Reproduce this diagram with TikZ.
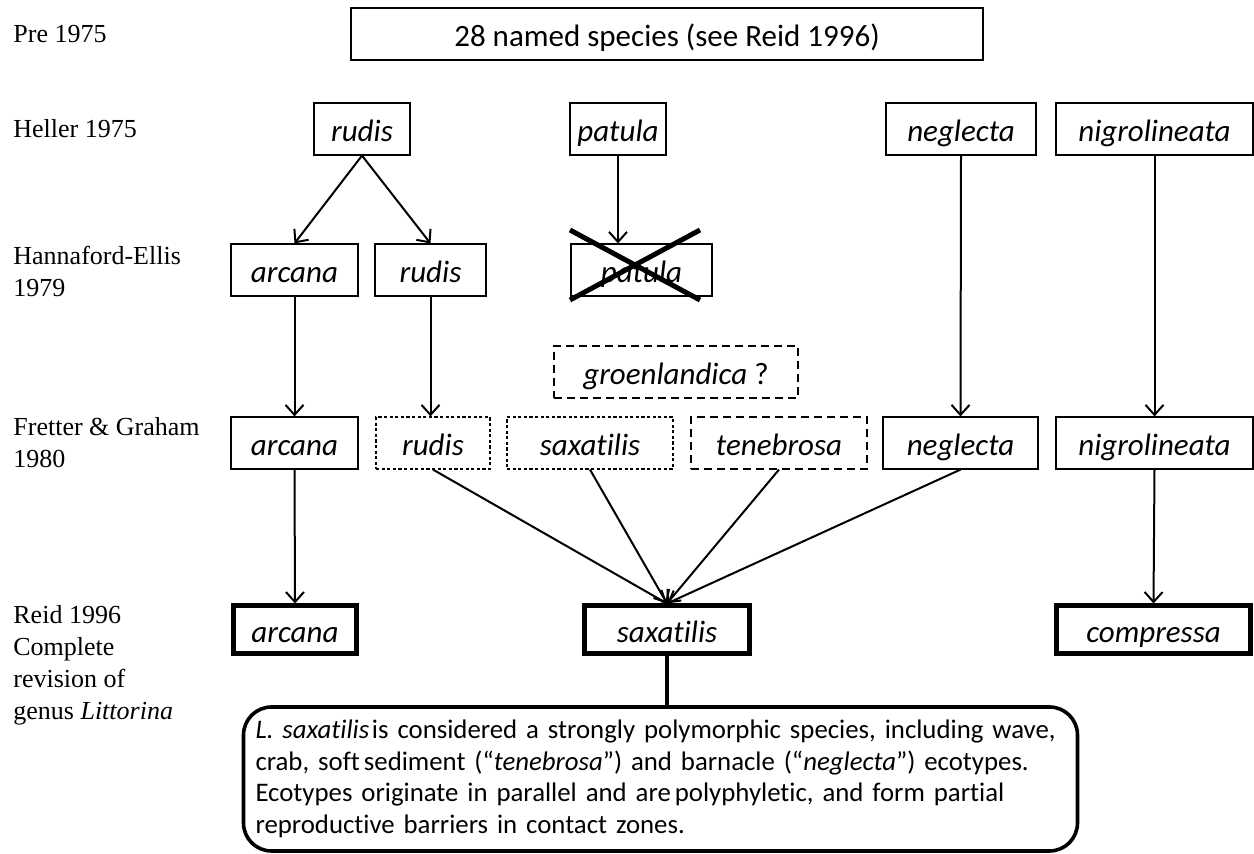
\documentclass[tikz,border=0pt]{standalone}
\usepackage{fontspec}
\setmainfont{Carlito}[Ligatures=NoCommon]
\newfontfamily\labelfont{Liberation Serif}
\usetikzlibrary{arrows.meta}

\begin{document}
\begin{tikzpicture}[
    x=0.5pt,
    y=-0.5pt,
    >={Straight Barb[length=5pt,width=9pt]},
    box/.style={draw, line width=0.6pt, minimum height=26pt, inner sep=0pt,
      text height=12.5pt, text depth=0pt, font=\fontsize{15.5}{18}\selectfont},
    finedash/.style={box, dash pattern=on 1.6pt off 1.2pt},
    longdash/.style={box, dash pattern=on 4pt off 2.5pt},
    thickbox/.style={box, line width=2.5pt, minimum height=24pt},
    notebox/.style={draw, line width=1.8pt, rounded corners=14pt, inner xsep=6pt,
      inner ysep=0pt, minimum height=72pt, text width=405pt, align=left,
      font=\fontsize{13.4}{15.8}\selectfont},
    period/.style={anchor=west, inner sep=0pt, align=left,
      font=\fontsize{13}{16}\selectfont\labelfont},
    arr/.style={->, line width=1pt}
]
  \useasboundingbox (0,0) rectangle (1254,854);

  % time periods
  \node[period] (tpre) at (13, 34) {Pre 1975};
  \node[period] (theller) at (13, 129) {Heller 1975};
  \node[period] (thannaford) at (13, 271) {Hannaford-Ellis\\1979};
  \node[period] (tfretter) at (13, 443) {Fretter \& Graham\\1980};
  \node[period] (treid) at (13, 665) {Reid 1996\\Complete\\revision of\\genus \textit{Littorina}};

  % Pre 1975
  \node[box, minimum width=316pt] (pre) at (667, 34) {28 named species (see Reid 1996)};

  % Heller 1975
  \node[box, minimum width=48pt] (hrudis) at (362, 129) {\textit{rudis}};
  \node[box, minimum width=48pt] (hpatula) at (618, 129) {\textit{patula}};
  \node[box, minimum width=75pt] (hneglecta) at (961, 129) {\textit{neglecta}};
  \node[box, minimum width=98.5pt] (hnigro) at (1154.5, 129) {\textit{nigrolineata}};

  % Hannaford-Ellis 1979
  \node[box, minimum width=63.5pt] (hearcana) at (294.5, 270) {\textit{arcana}};
  \node[box, minimum width=55.5pt] (herudis) at (430.5, 270) {\textit{rudis}};
  \node[box, minimum width=70.5pt] (hepatula) at (641.5, 270) {\textit{patula}};
  \draw[line width=2.5pt] (570, 230) -- (700, 300);
  \draw[line width=2.5pt] (700, 230) -- (570, 300);

  % Fretter & Graham 1980
  \node[longdash, minimum width=122pt] (groen) at (676, 372) {\textit{groenlandica} ?};
  \node[box, minimum width=63.5pt] (farcana) at (294.5, 443) {\textit{arcana}};
  \node[finedash, minimum width=57pt] (frudis) at (433, 443) {\textit{rudis}};
  \node[finedash, minimum width=83pt] (fsax) at (590, 443) {\textit{saxatilis}};
  \node[longdash, minimum width=88pt] (ftene) at (779, 443) {\textit{tenebrosa}};
  \node[box, minimum width=77.5pt] (fneglecta) at (960.5, 443) {\textit{neglecta}};
  \node[box, minimum width=98.5pt] (fnigro) at (1154.5, 443) {\textit{nigrolineata}};

  % Reid 1996
  \node[thickbox, minimum width=61.5pt] (rarcana) at (295, 630) {\textit{arcana}};
  \node[thickbox, minimum width=82.5pt] (rsax) at (667, 630) {\textit{saxatilis}};
  \node[thickbox, minimum width=97pt] (rcompressa) at (1153.5, 630) {\textit{compressa}};

  \node[notebox] (note) at (660.5, 779) {\textit{L.~saxatilis}\hspace{0.1em}is considered a strongly polymorphic species, including wave,\\
    crab, soft\hspace{0.15em}sediment (“\textit{tenebrosa}”) and barnacle (“\textit{neglecta}”) ecotypes.\\
    Ecotypes originate in parallel and are\hspace{0.15em}polyphyletic, and form partial\\
    reproductive barriers in contact zones.};

  % connectors
  \draw[arr] (hrudis.south) -- (hearcana.north);
  \draw[arr] (hrudis.south) -- (herudis.north);
  \draw[arr] (hpatula.south) -- (hpatula.south |- hepatula.north);
  \draw[arr] (hneglecta.south) -- (fneglecta.north);
  \draw[arr] (hnigro.south) -- (fnigro.north);
  \draw[arr] (hearcana.south) -- (farcana.north);
  \draw[arr] (herudis.south) -- (herudis.south |- frudis.north);
  \draw[arr] (farcana.south) -- (rarcana.north);
  \draw[arr] (fnigro.south) -- (rcompressa.north);
  \draw[arr] (frudis.south) -- (rsax.north);
  \draw[arr] (fsax.south) -- (rsax.north);
  \draw[arr] (ftene.south) -- (rsax.north);
  \draw[arr] (fneglecta.south) -- (rsax.north);
  \draw[line width=2pt] (rsax.south) -- (rsax.south |- note.north);
\end{tikzpicture}
\end{document}
